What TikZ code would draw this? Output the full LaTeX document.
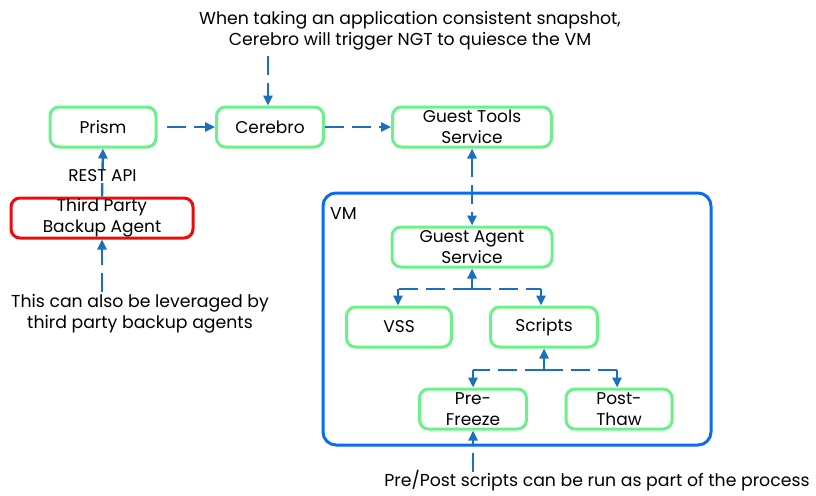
\documentclass[tikz,border=0pt]{standalone}
\usepackage{fontspec}
\setmainfont{Poppins}
\usetikzlibrary{arrows.meta,positioning}
\definecolor{boxgreen}{HTML}{6CF08A}
\definecolor{boxred}{HTML}{F00A0A}
\definecolor{vmblue}{HTML}{0A6CF5}
\definecolor{arrblue}{HTML}{1A70C0}
\tikzset{
  box/.style={draw=boxgreen, line width=3pt, rounded corners=9pt, fill=white,
    minimum height=40pt, align=center, font=\fontsize{17}{20.5}\selectfont, inner sep=0pt},
  redbox/.style={box, draw=boxred},
  conn/.style={draw=arrblue, line width=2.4pt, dash pattern=on 19pt off 8pt,
    -{Triangle[length=10pt,width=9pt]}},
  conn2/.style={draw=arrblue, line width=2.4pt, dash pattern=on 19pt off 8pt,
    {Triangle[length=10pt,width=9pt]}-{Triangle[length=10pt,width=9pt]}},
  plain/.style={draw=arrblue, line width=2.4pt, dash pattern=on 19pt off 8pt},
  note/.style={align=center, font=\fontsize{17.3}{21}\selectfont, inner sep=0pt}
}
\begin{document}
\begin{tikzpicture}[x=1pt,y=-1pt]
\useasboundingbox (0,0) rectangle (816,495);
% VM container
\draw[draw=vmblue, line width=3pt, rounded corners=13pt] (323,193) rectangle (711,445);
\node[note, anchor=west] (vmlbl) at (330,213) {VM};
% boxes
\node[box, minimum width=106pt] (prism) at (103,127) {Prism};
\node[box, minimum width=107pt] (cerebro) at (270,127) {Cerebro};
\node[box, minimum width=159pt] (gts) at (472,127) {Guest Tools\\Service};
\node[redbox, minimum width=182pt] (tpba) at (102,218) {Third Party\\Backup Agent};
\node[box, minimum width=160pt] (gas) at (472,247) {Guest Agent\\Service};
\node[box, minimum width=105pt] (vss) at (399,327) {VSS};
\node[box, minimum width=107pt] (scripts) at (544,327) {Scripts};
\node[box, minimum width=107pt] (pre) at (473,409) {Pre-\\Freeze};
\node[box, minimum width=106pt] (post) at (619,409) {Post-\\Thaw};
% notes
\node[note] (topnote) at (410,31) {When taking an application consistent snapshot,\\Cerebro will trigger NGT to quiesce the VM};
\node[note] (leftnote) at (140,314) {This can also be leveraged by\\third party backup agents};
\node[note] (botnote) at (597,481) {Pre/Post scripts can be run as part of the process};
% coordinates
\coordinate (topstart) at (268,56);
\coordinate (leftstart) at (102,292);
\coordinate (botstart) at (473,472);
\coordinate (j1) at (472,289);
\coordinate (j1l) at (398,289);
\coordinate (j1r) at (541,289);
\coordinate (j2) at (544,370);
\coordinate (j2l) at (473,370);
\coordinate (j2r) at (617,370);
% connectors
\draw[conn] (topstart) -- (topstart |- cerebro.north);
\draw[conn] ([xshift=9pt]prism.east) -- (cerebro.west);
\draw[conn] (cerebro.east) -- (gts.west);
\draw[conn2] (gts.south) -- (gas.north);
\draw[conn] (tpba.north) -- node[pos=0.43, fill=white, font=\fontsize{17}{20}\selectfont, inner sep=1pt] (rest) {REST API} (prism.south);
\draw[conn] (leftstart) -- (tpba.south);
\draw[conn] (j1) -- (gas.south);
\draw[plain] (j1) -- (j1l);
\draw[plain] (j1) -- (j1r);
\draw[conn] (j1l) -- (j1l |- vss.north);
\draw[conn] (j1r) -- (j1r |- scripts.north);
\draw[conn] (j2) -- (scripts.south);
\draw[plain] (j2) -- (j2l);
\draw[plain] (j2) -- (j2r);
\draw[conn] (j2l) -- (pre.north);
\draw[conn] (j2r) -- (j2r |- post.north);
\draw[conn] (botstart) -- (pre.south);
\end{tikzpicture}
\end{document}
